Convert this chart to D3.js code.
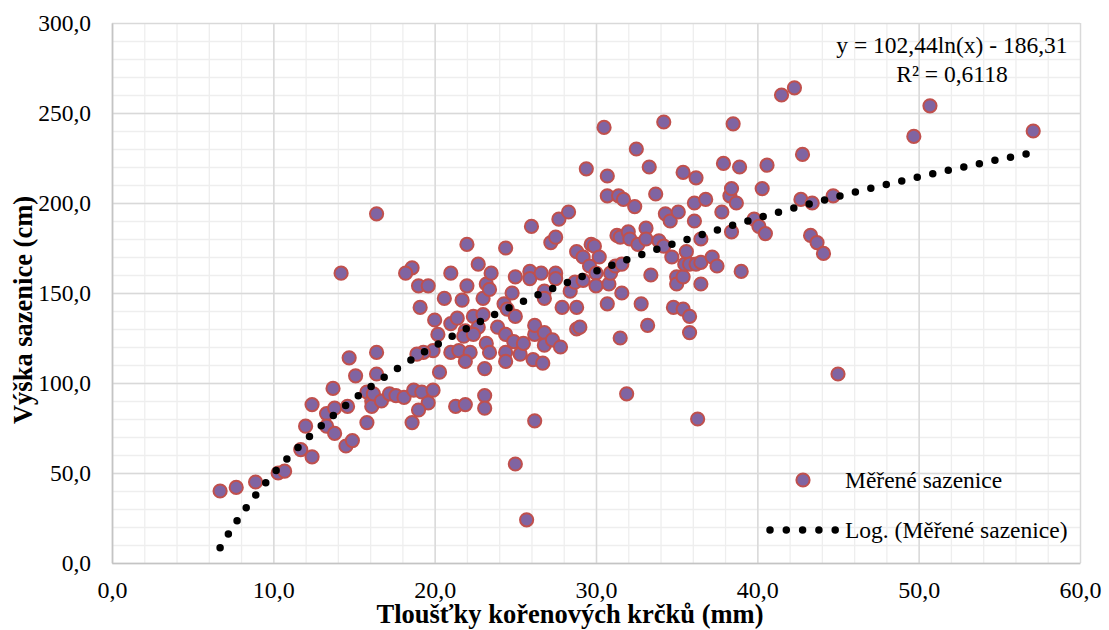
<!DOCTYPE html>
<html>
<head>
<meta charset="utf-8">
<script src="https://cdn.jsdelivr.net/npm/d3@7"></script>
<style>
  body { margin: 0; background: #fff; }
  text { font-family: "Liberation Serif", "Times New Roman", serif; fill: #000; }
</style>
</head>
<body>
<svg id="chart" width="1109" height="630"></svg>
<script>
// tloušťka krčku (mm) a výška sazenice (cm)
const thickness = [
  6.7, 7.7, 8.9, 10.3, 10.7, 11.7, 12.0, 12.4, 12.4, 13.3, 13.3, 13.7, 13.8, 13.8, 14.2, 14.5, 14.6, 14.7, 14.9, 15.1,
  15.8, 15.8, 16.1, 16.1, 16.4, 16.4, 16.4, 16.2, 16.7, 17.2, 17.6, 18.1, 18.7, 19.2, 19.6, 19.9, 19.0, 18.6, 18.6, 18.2,
  19.0, 19.6, 19.1, 20.0, 20.2, 19.9, 19.3, 18.9, 20.3, 21.0, 21.5, 22.2, 21.9, 21.0, 21.4, 21.9, 21.8, 20.6, 21.7, 21.0,
  22.0, 22.0, 22.4, 22.7, 22.4, 22.7, 23.0, 23.0, 23.2, 23.4, 23.5, 23.9, 23.2, 23.4, 23.1, 23.1, 23.1, 21.3, 21.9, 24.3,
  24.5, 24.8, 24.4, 24.4, 24.4, 24.4, 24.9, 25.0, 25.0, 25.0, 25.3, 25.5, 25.7, 25.9, 25.9, 26.0, 26.1, 26.2, 26.2, 26.2,
  26.6, 26.7, 26.8, 26.8, 26.8, 26.8, 27.3, 27.8, 27.5, 27.5, 27.2, 27.5, 27.7, 27.9, 28.3, 28.4, 28.7, 28.8, 28.8, 28.8,
  29.0, 29.2, 29.2, 29.4, 29.6, 29.7, 29.9, 30.0, 30.0, 30.2, 30.5, 30.7, 30.7, 30.7, 30.8, 30.9, 31.2, 31.3, 31.4, 31.5,
  31.5, 31.6, 31.6, 31.7, 31.9, 32.0, 32.1, 32.4, 32.5, 32.6, 32.8, 33.1, 33.1, 33.2, 33.3, 33.4, 33.7, 33.9, 34.2, 34.2,
  34.3, 34.6, 34.7, 34.8, 35.0, 35.0, 35.1, 35.4, 35.4, 35.4, 35.5, 35.6, 35.8, 35.8, 35.8, 36.1, 36.1, 36.2, 36.2, 36.5,
  36.3, 36.5, 36.5, 36.8, 37.2, 37.5, 37.8, 37.9, 38.3, 38.4, 38.4, 38.5, 38.7, 38.9, 39.0, 39.8, 40.1, 40.3, 40.5, 40.6,
  41.5, 42.3, 42.7, 42.8, 43.3, 43.4, 43.7, 44.1, 44.7, 45.0, 49.7, 50.7, 57.1
];
const height = [
  40, 42, 45, 50, 51, 63, 76, 59, 88, 83, 76, 97, 86, 72, 161, 65, 87, 114, 68, 104,
  95, 78, 90, 87, 117, 105, 194, 94, 90, 94, 93, 92, 96, 95, 89, 96, 85, 78, 164, 161,
  154, 154, 142, 135, 127, 118, 117, 116, 106, 117, 118, 117, 112, 133, 136, 129, 126, 147, 146, 161,
  154, 177, 137, 131, 127, 166, 138, 147, 155, 152, 161, 131, 122, 117, 108, 93, 86, 87, 88, 144,
  141, 150, 127, 117, 112, 175, 123, 137, 159, 55, 116, 122, 24, 162, 158, 187, 113, 127, 132, 79,
  161, 111, 151, 147, 128, 121, 124, 120, 161, 158, 178, 181, 191, 142, 195, 151, 156, 173, 142, 130,
  131, 157, 170, 219, 165, 177, 176, 161, 154, 170, 242, 215, 204, 144, 155, 161, 165, 182, 204, 181,
  125, 166, 150, 202, 94, 184, 180, 198, 230, 177, 144, 186, 180, 132, 220, 160, 205, 179, 176, 245,
  194, 190, 170, 142, 159, 155, 195, 217, 159, 141, 166, 173, 166, 137, 128, 200, 190, 214, 166, 155,
  80, 180, 167, 202, 170, 165, 195, 222, 204, 208, 184, 244, 200, 220, 162, 191, 187, 208, 183, 221,
  260, 264, 202, 227, 182, 200, 178, 172, 204, 105, 237, 254, 240
];
const points = thickness.map((x, i) => ({ x: x, y: height[i] }));

// logaritmicky trend: y = a*ln(x) + b
const trendA = 102.44;
const trendB = -186.31;
const equationLabel = "y = 102,44ln(x) - 186,31";
const r2Label = "R² = 0,6118";

const xTicks = [0, 10, 20, 30, 40, 50, 60];
const yTicks = [0, 50, 100, 150, 200, 250, 300];
const seriesName = "Měřené sazenice";
const trendName = "Log. (Měřené sazenice)";

const svg = d3.select("#chart");
const x = d3.scaleLinear().domain([0, 60]).range([112, 1080]);
const y = d3.scaleLinear().domain([0, 300]).range([563, 23]);
const fmt = d3.formatLocale({ decimal: ",", thousands: " ", grouping: [3], currency: ["", ""] }).format(".1f");

// vedlejsi mrizka
svg.append("g").attr("transform", "translate(0,563)")
  .call(d3.axisBottom(x).tickValues(d3.range(2, 60, 2)).tickSize(-540).tickFormat(""))
  .call(g => g.select(".domain").remove())
  .selectAll("line").attr("stroke", "#eeeeee").attr("stroke-width", 1.3);
svg.append("g").attr("transform", "translate(112,0)")
  .call(d3.axisLeft(y).tickValues(d3.range(10, 300, 10)).tickSize(-968).tickFormat(""))
  .call(g => g.select(".domain").remove())
  .selectAll("line").attr("stroke", "#eeeeee").attr("stroke-width", 1.3);

// hlavni mrizka
svg.append("g").attr("transform", "translate(0,563)")
  .call(d3.axisBottom(x).tickValues(xTicks).tickSize(-540).tickFormat(""))
  .call(g => g.select(".domain").remove())
  .selectAll("line").attr("stroke", "#d9d9d9").attr("stroke-width", 1.5);
svg.append("g").attr("transform", "translate(112,0)")
  .call(d3.axisLeft(y).tickValues(yTicks).tickSize(-968).tickFormat(""))
  .call(g => g.select(".domain").remove())
  .selectAll("line").attr("stroke", "#d9d9d9").attr("stroke-width", 1.5);

// osy
const xAxis = svg.append("g").attr("transform", "translate(0,563)")
  .call(d3.axisBottom(x).tickValues(xTicks).tickSize(0).tickPadding(18).tickFormat(fmt));
xAxis.select(".domain").attr("stroke", "#c4c4c4").attr("stroke-width", 1.6);
xAxis.selectAll("text").attr("font-size", "24px").attr("font-family", "Liberation Serif").attr("fill", "#000");

const yAxis = svg.append("g").attr("transform", "translate(112,0)")
  .call(d3.axisLeft(y).tickValues(yTicks).tickSize(0).tickPadding(21).tickFormat(fmt));
yAxis.select(".domain").attr("stroke", "#c4c4c4").attr("stroke-width", 1.6);
yAxis.selectAll("text").attr("font-size", "23.5px").attr("font-family", "Liberation Serif").attr("fill", "#000");

// body
svg.append("g").selectAll("circle")
  .data(points)
  .join("circle")
  .attr("cx", d => x(d.x))
  .attr("cy", d => y(d.y))
  .attr("r", 6.6)
  .attr("fill", "#8064a2")
  .attr("stroke", "#c0504d")
  .attr("stroke-width", 2);

// trend (tečkovaný)
const [xMin, xMax] = d3.extent(thickness);
const trendXs = d3.range(xMin, xMax, 0.05).concat([xMax]);
const trendLine = d3.line().x(d => x(d)).y(d => y(trendA * Math.log(d) + trendB));
svg.append("path")
  .attr("d", trendLine(trendXs))
  .attr("fill", "none")
  .attr("stroke", "#000")
  .attr("stroke-width", 7.5)
  .attr("stroke-linecap", "round")
  .attr("stroke-dasharray", "0 15.9");

// rovnice
svg.append("text").attr("x", 952).attr("y", 53).attr("text-anchor", "middle")
  .attr("font-size", "23.5px").text(equationLabel);
svg.append("text").attr("x", 952).attr("y", 82).attr("text-anchor", "middle")
  .attr("font-size", "23.5px").text(r2Label);

// legenda
const legend = svg.append("g");
legend.append("circle").attr("cx", 803).attr("cy", 480).attr("r", 6.6)
  .attr("fill", "#8064a2").attr("stroke", "#c0504d").attr("stroke-width", 2);
legend.append("text").attr("x", 845).attr("y", 488).attr("font-size", "23.5px").text(seriesName);
legend.append("line").attr("x1", 770).attr("x2", 836).attr("y1", 530).attr("y2", 530)
  .attr("stroke", "#000").attr("stroke-width", 7.5).attr("stroke-linecap", "round")
  .attr("stroke-dasharray", "0 16.3");
legend.append("text").attr("x", 845).attr("y", 538).attr("font-size", "23.5px").text(trendName);

// popisky os
svg.append("text").attr("x", 570).attr("y", 623).attr("text-anchor", "middle")
  .attr("font-size", "26.5px").attr("font-weight", "bold").text("Tloušťky kořenových krčků (mm)");
svg.append("text").attr("transform", "translate(32,310) rotate(-90)").attr("text-anchor", "middle")
  .attr("font-size", "26.5px").attr("font-weight", "bold").text("Výška sazenice (cm)");
</script>
</body>
</html>
